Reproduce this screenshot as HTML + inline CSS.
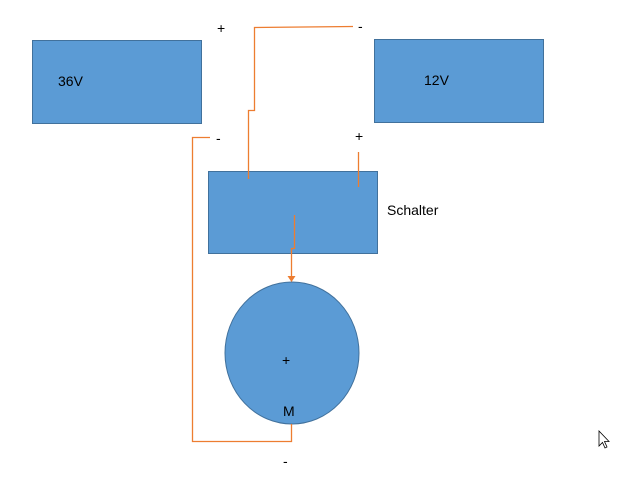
<!DOCTYPE html>
<html><head><style>
body{margin:0;background:#fff;width:620px;height:480px;overflow:hidden}
svg text{font-family:"Liberation Sans",sans-serif;font-size:14px;fill:#000}
</style></head><body>
<svg width="620" height="480" xmlns="http://www.w3.org/2000/svg">
<rect x="32.5" y="40.5" width="169" height="83" fill="#5b9bd5" stroke="#41719c"/>
<rect x="374.5" y="39.5" width="169" height="83" fill="#5b9bd5" stroke="#41719c"/>
<rect x="208.5" y="171.5" width="169" height="82" fill="#5b9bd5" stroke="#41719c"/>
<ellipse cx="292" cy="353" rx="67" ry="71" fill="#5b9bd5" stroke="#41719c"/>
<g fill="none" stroke="#ed7d31" stroke-width="1.3">
<polyline points="248.5,179 248.5,110.5 254.5,110.5 254.5,27.5 353,26.5"/>
<line x1="358.5" y1="152" x2="358.5" y2="187"/>
<polyline points="210,137.5 192.5,137.5 192.5,441.5 291.5,441.5 291.5,424"/>
<polyline points="294.5,215 294.5,248.5 291.5,248.5 291.5,277"/>
</g>
<polygon points="287.5,276 295.5,276 291.5,282" fill="#ed7d31"/>
<text x="217" y="33">+</text>
<text x="358" y="31">-</text>
<text x="216" y="143">-</text>
<text x="355" y="141">+</text>
<text x="58" y="86">36V</text>
<text x="424" y="85">12V</text>
<text x="387" y="215">Schalter</text>
<text x="282" y="365">+</text>
<text x="283" y="416">M</text>
<text x="283" y="466">-</text>
<path d="M599,431 L599,446 L602.5,442.5 L605,448 L607,447 L604.5,441.5 L609,441.5 Z" fill="#fff" stroke="#000" stroke-width="0.8"/>
</svg>
</body></html>
